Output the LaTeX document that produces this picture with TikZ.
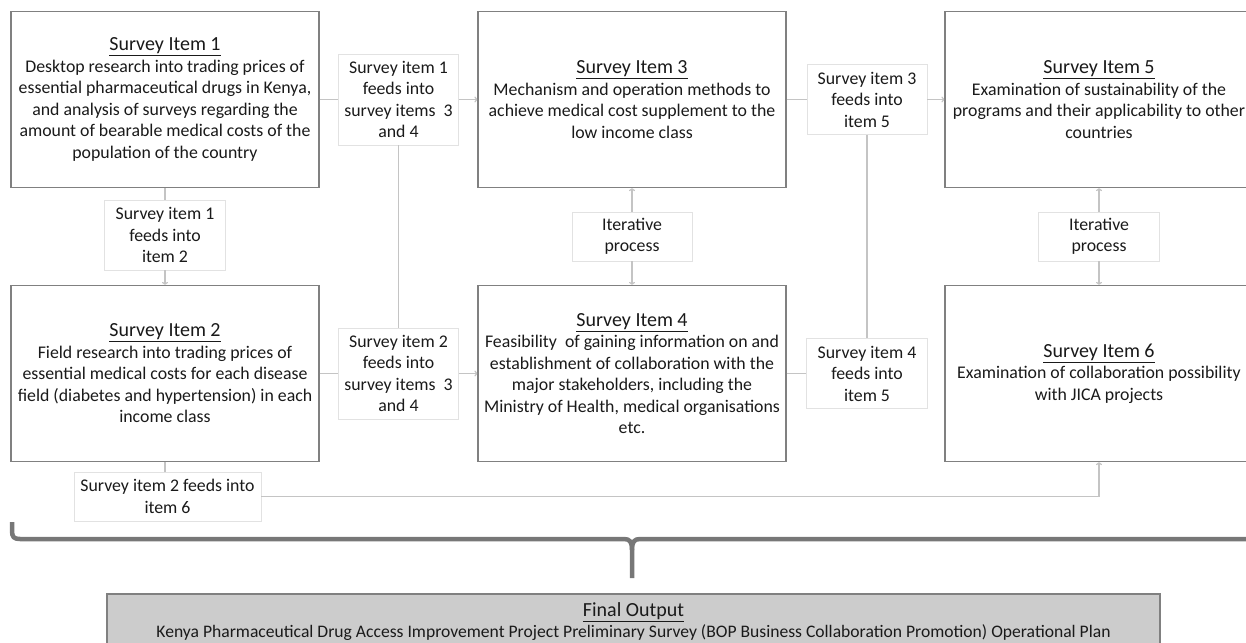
\documentclass[tikz,border=0pt]{standalone}
\usepackage{fontspec}
\setmainfont{Carlito}
\usetikzlibrary{arrows.meta}
\definecolor{boxline}{HTML}{808080}
\definecolor{tagline}{HTML}{E2E2E2}
\definecolor{linkline}{HTML}{C4C4C4}
\definecolor{bracecol}{HTML}{777777}
\definecolor{finalfill}{HTML}{CCCCCC}
\definecolor{textcol}{HTML}{1A1A1A}
% underlined heading of a box, a little larger than its body text
\newcommand\itemtitle[1]{{\fontsize{20}{21.4}\selectfont\underline{#1}}}

\begin{document}
\begin{tikzpicture}[x=1pt,y=-1pt,
  font=\fontsize{17.8}{21.5}\selectfont, text=textcol,
  item/.style={draw=boxline, line width=1.3pt, fill=white, minimum width=308,
    minimum height=176, align=center, inner sep=0pt},
  tag/.style={draw=tagline, line width=0.8pt, fill=white, minimum width=120,
    align=center, inner sep=0pt},
  link/.style={draw=linkline, line width=1.2pt},
  arr/.style={link, -{To[length=3pt,width=6pt]}},
  bracepath/.style={draw=bracecol, line width=4.5pt, line join=round},
  finalbox/.style={draw=boxline, line width=1.3pt, fill=finalfill,
    minimum width=1053, minimum height=56, align=center, inner sep=0pt,
    font=\fontsize{17.6}{21}\selectfont},
]
\useasboundingbox (0,0) rectangle (1246,642);
\clip (0,0) rectangle (1246,642);

% survey items
\node[item] (s1) at (165,99.5) {\itemtitle{Survey Item 1}\\Desktop research into trading prices of\\essential pharmaceutical drugs in Kenya,\\and analysis of surveys regarding the\\amount of bearable medical costs of the\\population of the country};
\node[item] (s3) at (632,99.5) {\itemtitle{Survey Item 3}\\Mechanism and operation methods to\\achieve medical cost supplement to the\\low income class};
\node[item] (s5) at (1099,99.5) {\itemtitle{Survey Item 5}\\Examination of sustainability of the\\programs and their applicability to other\\countries};
\node[item] (s2) at (165,373.5) {\itemtitle{Survey Item 2}\\Field research into trading prices of\\essential medical costs for each disease\\field (diabetes and hypertension) in each\\income class};
\node[item] (s4) at (632,373.5) {\itemtitle{Survey Item 4}\\Feasibility\ \ of gaining information on and\\establishment of collaboration with the\\major stakeholders, including the\\Ministry of Health, medical organisations\\etc.};
\node[item] (s6) at (1099,373.5) {\itemtitle{Survey Item 6}\\Examination of collaboration possibility\\with JICA projects};

% link labels
\node[tag, minimum height=91] (t13) at (398.5,99.5) {Survey item 1\\feeds into\\survey items\ \ 3\\and 4};
\node[tag, minimum height=91] (t24) at (398.5,373.5) {Survey item 2\\feeds into\\survey items\ \ 3\\and 4};
\node[tag, minimum height=70, minimum width=121] (t12) at (165,235) {Survey item 1\\feeds into\\item 2};
\node[tag, minimum height=70] (t35) at (867,99.5) {Survey item 3\\feeds into\\item 5};
\node[tag, minimum height=70, minimum width=121] (t45) at (867,373.5) {Survey item 4\\feeds into\\item 5};
\node[tag, minimum height=49] (it34) at (632,236.5) {Iterative\\process};
\node[tag, minimum height=49, minimum width=121] (it56) at (1099,236.5) {Iterative\\process};
\node[tag, minimum height=49, minimum width=187] (t26) at (167.5,496.5) {Survey item 2 feeds into\\item 6};

% connectors
\draw[link] (s1.east) -- (t13.west);
\draw[arr] (t13.east) -- (s3.west);
\draw[link] (t13.south) -- (t24.north);
\draw[link] (s2.east) -- (t24.west);
\draw[arr] (t24.east) -- (s4.west);
\draw[link] (s1.south) -- (t12.north);
\draw[arr] (t12.south) -- (s2.north);
\draw[arr] (it34.north) -- (s3.south);
\draw[arr] (it34.south) -- (s4.north);
\draw[link] (s3.east) -- (t35.west);
\draw[arr] (t35.east) -- (s5.west);
\draw[link] (t35.south) -- (t45.north);
\draw[link] (s4.east) -- (t45.west);
\draw[arr] (it56.north) -- (s5.south);
\draw[arr] (it56.south) -- (s6.north);
\draw[link] (s2.south) -- (s2.south |- t26.north);
\draw[arr] (t26.east) -| (s6.south);

% brace gathering all items
\coordinate (tip) at (632,578);
\draw[bracepath] (12,522) -- (12,531) .. controls (12,537) and (14,539) .. (20,539)
  -- (624,539) .. controls (630,539) and (632,542) .. (632,550) -- (tip);
\draw[bracepath] (632,550) .. controls (632,542) and (634,539) .. (640,539) -- (1260,539);

% final output
\node[finalbox] (fin) at (633.5,622) {\itemtitle{Final Output}\\Kenya Pharmaceutical Drug Access Improvement Project Preliminary Survey (BOP Business Collaboration Promotion) Operational Plan};
\end{tikzpicture}
\end{document}
